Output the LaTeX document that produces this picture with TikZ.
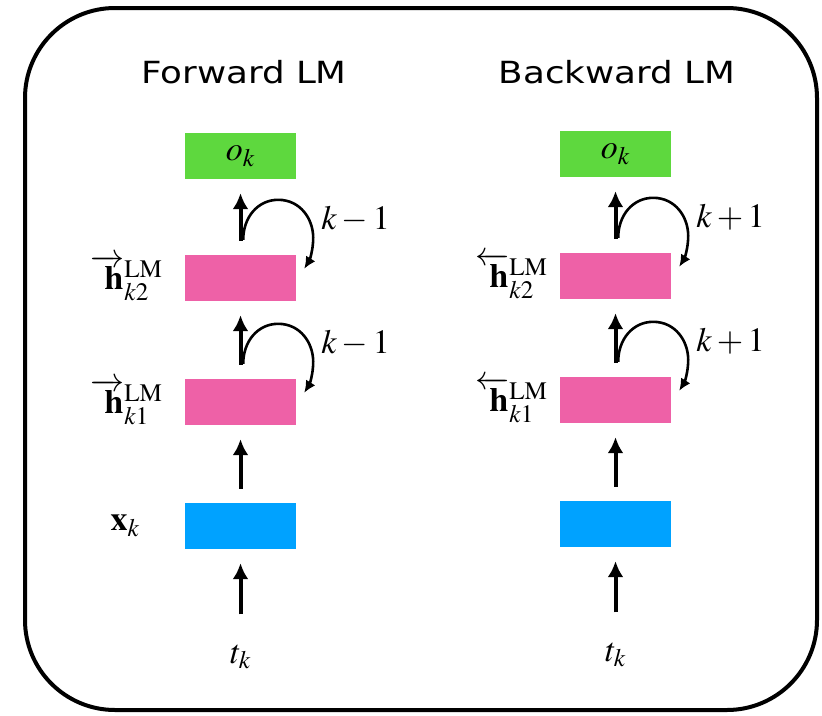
\documentclass[tikz,border=0pt]{standalone}
\usepackage{mathptmx}
\usepackage{fontspec}
\setmainfont{Liberation Serif}
\newfontfamily\ttlfont{DejaVu Sans}[FakeStretch=1.17]
\usetikzlibrary{arrows.meta,calc,positioning}
\definecolor{outgreen}{HTML}{5ED83E}
\definecolor{hidpink}{HTML}{EE61A7}
\definecolor{embblue}{HTML}{00A2FF}
\newcommand\fwdh{{\overrightarrow{\mkern7mu\mathbf{h}}}\vphantom{\mathbf{h}}}
\newcommand\bwdh{{\overleftarrow{\mkern7mu\mathbf{h}}}\vphantom{\mathbf{h}}}
\tikzset{
  font=\fontsize{34}{40}\selectfont,
  >={Latex[length=16pt,width=16pt]},
  cell/.style={inner sep=0pt, minimum width=111pt, minimum height=46pt},
  feed/.style={->, line width=4pt, shorten <=14pt, shorten >=14pt},
  rec/.style={-{Latex[length=12pt,width=11pt]}, line width=2.6pt},
  ttl/.style={font=\ttlfont\fontsize{30.5}{36}\selectfont},
  lab/.style={inner sep=0pt},
}
\begin{document}
\begin{tikzpicture}[x=1pt,y=-1pt]
\useasboundingbox (0,0) rectangle (822,715);
% frame
\draw[line width=4pt, rounded corners=90pt] (25,8) rectangle (817,710);
% column centres
\def\F{240.5}
\def\B{615.5}
% titles
\node[ttl] (ftitle) at (244,72) {Forward LM};
\node[ttl] (btitle) at (617,72) {Backward LM};
% forward stack
\node[cell, fill=outgreen] (fo) at (\F,156) {$o_k$};
\node[cell, fill=hidpink] (fh2) at (\F,278) {};
\node[cell, fill=hidpink] (fh1) at (\F,402) {};
\node[cell, fill=embblue] (fx) at (\F,526) {};
% backward stack
\node[cell, fill=outgreen] (bo) at (\B,154) {$o_k$};
\node[cell, fill=hidpink] (bh2) at (\B,276) {};
\node[cell, fill=hidpink] (bh1) at (\B,400) {};
\node[cell, fill=embblue] (bx) at (\B,524) {};
% inputs
\node[lab, anchor=base] (ft) at (\F,663) {$t_k$};
\node[lab, anchor=base] (bt) at (\B,661) {$t_k$};
% side labels
\node[lab, left=22pt of fh2] (fh2-l) {$\fwdh^{\mathrm{LM}}_{k2}$};
\node[lab, left=22pt of fh1] (fh1-l) {$\fwdh^{\mathrm{LM}}_{k1}$};
\node[lab, left=45pt of fx] (fx-l) {$\mathbf{x}_k$};
\node[lab, left=12pt of bh2] (bh2-l) {$\bwdh^{\mathrm{LM}}_{k2}$};
\node[lab, left=12pt of bh1] (bh1-l) {$\bwdh^{\mathrm{LM}}_{k1}$};
% feed arrows
\foreach \s in {f,b}{
  \draw[feed, shorten <=30pt] (\s t) -- (\s x);
  \draw[feed] (\s x) -- (\s h1);
  \draw[feed] (\s h1) -- (\s h2);
  \draw[feed] (\s h2) -- (\s o);
}
% recurrent loops
\foreach \n/\m in {fh2/{$k-1$}, fh1/{$k-1$}, bh2/{$k+1$}, bh1/{$k+1$}}{
  \draw[rec] ([shift={(-53,-15)}]\n.north east)
    .. controls ([shift={(-53,-38)}]\n.north east) and ([shift={(-38,-55)}]\n.north east) .. ([shift={(-18,-55)}]\n.north east)
    .. controls ([shift={(4,-55)}]\n.north east) and ([shift={(17,-36)}]\n.north east) .. ([shift={(17,-17)}]\n.north east)
    .. controls ([shift={(17,-4)}]\n.north east) and ([shift={(13,6)}]\n.north east) .. ([shift={(8,14)}]\n.north east);
  \node[lab, anchor=west] (\n-r) at ([shift={(25,-36)}]\n.north east) {\m};
}
\end{tikzpicture}
\end{document}
